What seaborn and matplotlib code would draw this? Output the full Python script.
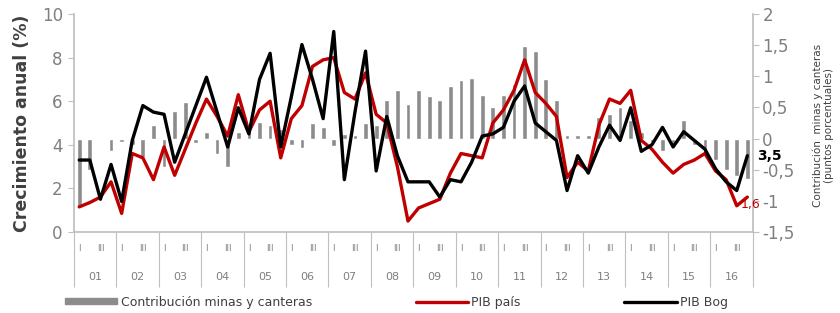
import numpy as np
import pandas as pd
import matplotlib
matplotlib.use('Agg')
import matplotlib.pyplot as plt
import seaborn as sns
from matplotlib.lines import Line2D
from matplotlib.patches import Patch

# years 2001-2016, quarterly
years = ['01', '02', '03', '04', '05', '06', '07', '08',
         '09', '10', '11', '12', '13', '14', '15', '16']
quarter_labels = ['I', '', 'III', '']

# contribution of mining (right axis, percentage points)
mining = [-1.1, -0.5, -0.03, -0.2, -0.05, -0.1, -0.3, 0.22,
          -0.45, 0.45, 0.58, -0.07, 0.1, -0.25, -0.45, 0.1,
          0.12, 0.26, 0.22, 0.15, -0.1, -0.15, 0.25, 0.18,
          -0.12, 0.08, 0.05, 0.25, 0.22, 0.62, 0.78, 0.55,
          0.78, 0.68, 0.62, 0.85, 0.94, 0.98, 0.7, 0.5,
          0.7, 0.87, 1.48, 1.4, 0.95, 0.62, 0.05, 0.05,
          0.05, 0.35, 0.4, 0.5, 0.3, 0.1, -0.05, -0.2,
          -0.1, 0.3, -0.1, -0.25, -0.35, -0.5, -0.6, -0.65]

# annual growth (left axis, %)
pib_pais = [1.15, 1.35, 1.6, 2.3, 0.85, 3.6, 3.4, 2.4,
            3.9, 2.6, 3.8, 5.0, 6.1, 5.3, 4.4, 6.3,
            4.6, 5.6, 6.0, 3.4, 5.2, 5.8, 7.6, 7.9,
            8.0, 6.4, 6.1, 7.3, 5.4, 5.0, 3.0, 0.5,
            1.1, 1.3, 1.5, 2.7, 3.6, 3.5, 3.4, 5.0,
            5.6, 6.5, 7.9, 6.4, 5.9, 5.3, 2.5, 3.2,
            2.8, 4.9, 6.1, 5.9, 6.5, 4.2, 3.8, 3.2,
            2.7, 3.1, 3.3, 3.6, 2.8, 2.4, 1.2, 1.6]

pib_bog = [3.3, 3.3, 1.5, 3.1, 1.4, 4.2, 5.8, 5.5,
           5.4, 3.2, 4.5, 5.8, 7.1, 5.5, 3.9, 5.7,
           4.5, 7.0, 8.2, 3.9, 6.2, 8.6, 7.0, 5.2,
           9.2, 2.4, 5.5, 8.3, 2.8, 5.3, 3.5, 2.3,
           2.3, 2.3, 1.6, 2.4, 2.3, 3.2, 4.4, 4.5,
           4.8, 6.0, 6.7, 5.0, 4.6, 4.2, 1.9, 3.5,
           2.7, 3.9, 4.9, 4.2, 5.7, 3.7, 4.0, 4.8,
           3.9, 4.6, 4.2, 3.8, 2.9, 2.3, 1.9, 3.5]

sns.set_theme(style='white')
plt.rcParams['font.family'] = ['DejaVu Sans']

n = len(pib_pais)
df = pd.DataFrame({'t': np.arange(n), 'mining': mining,
                   'pais': pib_pais, 'bog': pib_bog})

grey_txt = '#7f7f7f'
axis_col = '#bfbfbf'
red = '#c00000'

fig = plt.figure(figsize=(8.4, 3.13), dpi=100)
ax = fig.add_axes([0.088, 0.259, 0.808, 0.696])
ax2 = ax.twinx()

# bars on the right axis
sns.barplot(data=df, x='t', y='mining', color='#8c8c8c', width=0.45,
            saturation=1, ax=ax2)

# lines on the left axis
sns.lineplot(data=df, x='t', y='pais', color=red, lw=2.4, ax=ax)
sns.lineplot(data=df, x='t', y='bog', color='black', lw=2.4, ax=ax)

ax.set_zorder(ax2.get_zorder() + 1)
ax.patch.set_visible(False)

ax.set_xlim(-0.5, n - 0.5)
ax.set_ylim(0, 10)
ax2.set_ylim(-1.5, 2)
ax.set_yticks(range(0, 11, 2))
r_ticks = np.arange(-1.5, 2.01, 0.5)
ax2.set_yticks(r_ticks)
ax2.set_yticklabels([('%g' % v).replace('.', ',') for v in r_ticks])

ax.set_xticks([])
ax2.set_xticks([])
ax.set_xlabel('')
ax2.set_xlabel('')
ax2.set_ylabel('')
ax.set_ylabel('Crecimiento anual (%)', fontsize=12.5, fontweight='bold',
              color='#404040', labelpad=8)

ax.tick_params(axis='y', left=True, length=4, width=0.8, color=axis_col,
               labelcolor=grey_txt, labelsize=12, pad=4)
ax2.tick_params(axis='y', right=True, length=4, width=0.8, color=axis_col,
                labelcolor=grey_txt, labelsize=12, pad=3)

for a in (ax, ax2):
    for s in a.spines.values():
        s.set_visible(False)
ax.spines['left'].set_visible(True)
ax.spines['left'].set_color(axis_col)
ax.spines['bottom'].set_visible(True)
ax.spines['bottom'].set_color(axis_col)
ax2.spines['right'].set_visible(True)
ax2.spines['right'].set_color(axis_col)

fig.text(0.98, 0.6, 'Contribución  minas y canteras\n(puntos porcentuales)',
         rotation=90, ha='center', va='center', fontsize=7.5, color='#404040',
         linespacing=1.2)

# category axis: quarters and years
xt = ax.get_xaxis_transform()
for i in range(n):
    lab = quarter_labels[i % 4]
    if lab:
        ax.text(i, -0.078, lab, transform=xt, ha='center', va='center',
                fontsize=6, color=grey_txt)
for k, yr in enumerate(years):
    ax.text(4 * k + 1.5, -0.205, yr, transform=xt, ha='center', va='center',
            fontsize=8, color=grey_txt)
ax.vlines(np.arange(-0.5, n, 4), -0.255, 0, transform=xt, color=axis_col,
          lw=0.8, clip_on=False)

# end labels
ax.text(n - 0.1, pib_bog[-1], '3,5', ha='left', va='center', fontsize=10,
        fontweight='bold', color='black')
ax.text(n - 1.6, pib_pais[-1] - 0.35, '1,6', ha='left', va='center',
        fontsize=9, color=red)

handles = [Patch(color='#8c8c8c'),
           Line2D([], [], color=red, lw=2.4),
           Line2D([], [], color='black', lw=2.4)]
labels = ['Contribución minas y canteras', 'PIB país', 'PIB Bog']
fig.legend(handles, labels, loc='center', bbox_to_anchor=(0.472, 0.035),
           ncol=3, frameon=False, fontsize=9, handlelength=4.2,
           handleheight=0.35, handletextpad=0.25, columnspacing=8.3,
           labelcolor='#404040')

fig.savefig('out.png', dpi=100)
